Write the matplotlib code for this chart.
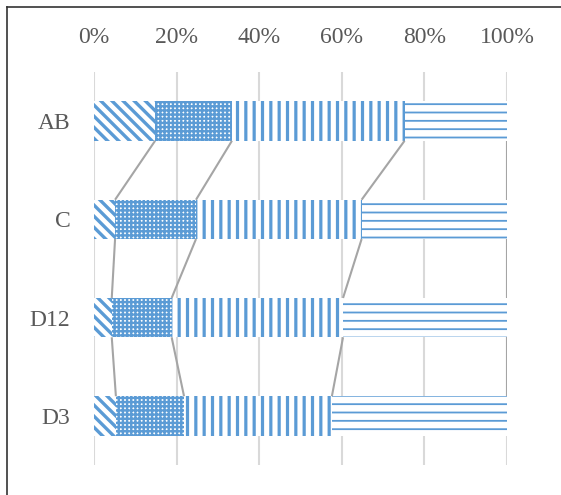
import matplotlib
matplotlib.use("Agg")
import matplotlib.pyplot as plt
from matplotlib.lines import Line2D
import numpy as np

# shares per category, percent (each row sums to 100)
categories = ["AB", "C", "D12", "D3"]
part_a = [14.8, 5.1, 4.3, 5.3]
part_b = [18.6, 19.6, 14.5, 16.5]
part_c = [41.8, 40.1, 41.5, 35.8]
part_d = [24.8, 35.2, 39.7, 42.4]
x_ticks = [0, 20, 40, 60, 80, 100]

BLUE = "#5B9BD5"
GRID = "#D9D9D9"
SERIES = "#A5A5A5"
TEXT = "#595959"

plt.rcParams["font.family"] = ["Liberation Serif", "DejaVu Serif"]

fig = plt.figure(figsize=(5.61, 4.95), dpi=100)
ax = fig.add_axes([94 / 561, 1 - 465 / 495, 413 / 561, 393 / 495])

y = np.arange(len(categories))
h = 0.4
parts = [np.array(p, dtype=float) for p in (part_a, part_b, part_c, part_d)]
lefts = np.cumsum([np.zeros(len(categories))] + parts[:-1], axis=0)

# hatch pattern and hatch linewidth for each segment
styles = [("\\\\\\", 2.4), ("++++", 1.7), ("||", 2.3), ("--", 1.3)]
for vals, left, (hatch, hlw) in zip(parts, lefts, styles):
    with plt.rc_context({"hatch.linewidth": hlw}):
        ax.barh(y, vals, left=left, height=h, color="white",
                edgecolor=BLUE, hatch=hatch, lw=0, zorder=2)

# series lines joining the segment boundaries of neighbouring bars
cum = np.cumsum(parts, axis=0)
for row in cum:
    for i in range(len(categories) - 1):
        ax.plot([row[i], row[i + 1]], [y[i] + h / 2, y[i + 1] - h / 2],
                color=SERIES, lw=1.5, zorder=3, solid_capstyle="butt")

ax.set_xlim(0, 100)
ax.set_ylim(len(categories) - 0.5, -0.5)
ax.set_xticks(x_ticks)
ax.set_xticklabels([f"{t}%" for t in x_ticks])
ax.set_yticks(y)
ax.set_yticklabels(categories)
ax.xaxis.tick_top()
ax.tick_params(axis="x", length=0, pad=17, labelsize=17, labelcolor=TEXT)
ax.tick_params(axis="y", length=0, pad=17, labelsize=17, labelcolor=TEXT)
ax.grid(axis="x", color=GRID, lw=1.5, zorder=0)
ax.set_axisbelow(True)
for s in ax.spines.values():
    s.set_visible(False)

# chart-area frame, clipped on the right and bottom
fig.add_artist(Line2D([7 / 561, 1], [1 - 7 / 495] * 2, transform=fig.transFigure,
                      color="#333333", lw=1.2))
fig.add_artist(Line2D([7 / 561] * 2, [0, 1 - 7 / 495], transform=fig.transFigure,
                      color="#333333", lw=1.2))

fig.savefig("out.png", dpi=100)
